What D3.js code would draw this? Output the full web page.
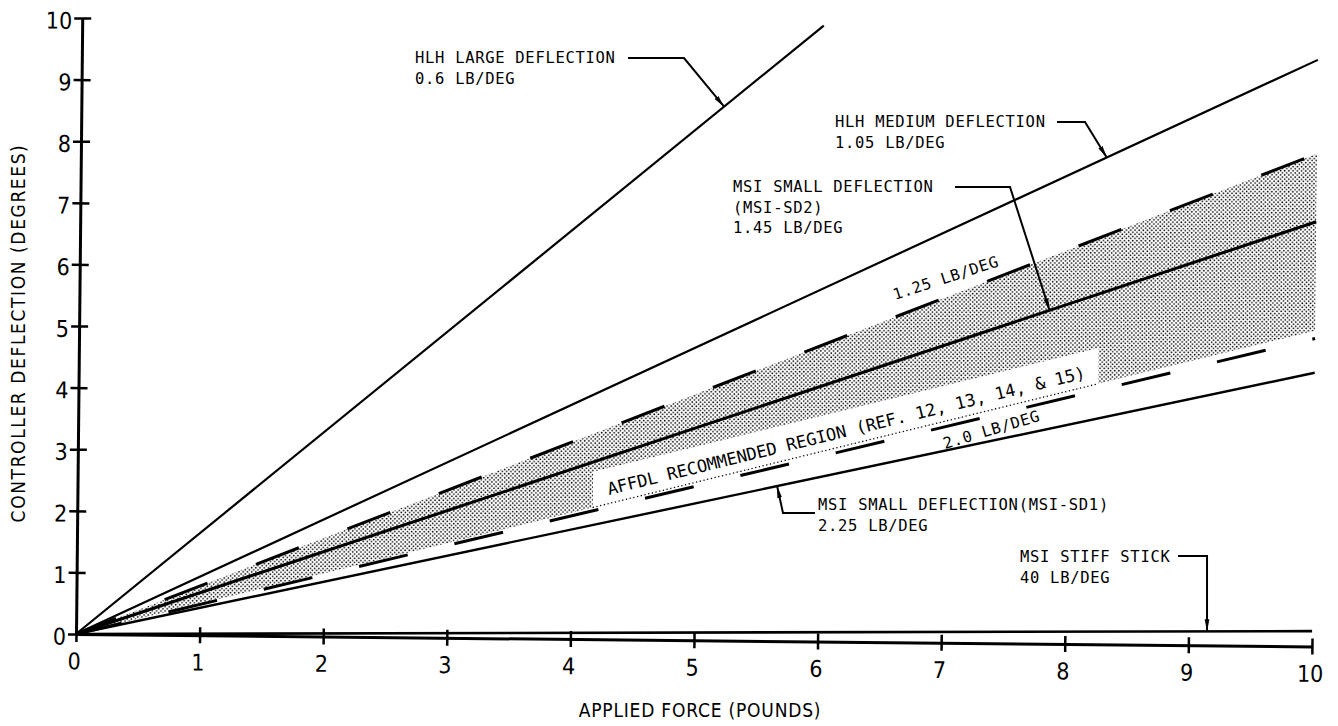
<!DOCTYPE html>
<html>
<head>
<meta charset="utf-8">
<script src="https://cdn.jsdelivr.net/npm/d3@7"></script>
<style>
  body { margin: 0; background: #fff; }
  .tick text { font-family: 'DejaVu Sans Condensed', 'DejaVu Sans', sans-serif; font-stretch: condensed; }
  .note { font-family: 'DejaVu Sans Mono', monospace; font-size: 15.5px; letter-spacing: 0.7px; fill: #000; }
  .title { font-family: 'DejaVu Sans Condensed', 'DejaVu Sans', sans-serif; font-stretch: condensed; font-size: 19px; fill: #000; }
</style>
</head>
<body>
<div id="chart"></div>
<script>
// applied force ticks (pounds) and deflection ticks (degrees)
const forceTicks = [0, 1, 2, 3, 4, 5, 6, 7, 8, 9, 10];
const deflTicks = [0, 1, 2, 3, 4, 5, 6, 7, 8, 9, 10];

// solid controller lines: force gradient in lb/deg and force where the line stops
const solidGradients = [0.6, 1.05, 1.45, 2.25, 40];
const solidEnds = [6, 10, 10, 10, 10];
const solidWidths = [2.2, 2.2, 3, 2.4, 2.6];

// dashed AFFDL limits
const dashedGradients = [1.25, 2.0];

// stippled region edges (lb/deg)
const regionEdges = [1.25, 1.95];

// annotations: gradient of the line pointed at, force at arrow tip
const notes = [
  { lines: ["HLH LARGE DEFLECTION", "0.6 LB/DEG"], k: 0.6, f: 5.2 },
  { lines: ["HLH MEDIUM DEFLECTION", "1.05 LB/DEG"], k: 1.05, f: 8.3 },
  { lines: ["MSI SMALL DEFLECTION", "(MSI-SD2)", "1.45 LB/DEG"], k: 1.45, f: 7.85 },
  { lines: ["MSI SMALL DEFLECTION(MSI-SD1)", "2.25 LB/DEG"], k: 2.25, f: 5.66 },
  { lines: ["MSI STIFF STICK", "40 LB/DEG"], k: 40, f: 9.15 }
];
// text anchor + leader elbow, in page pixels
const noteLayout = [
  { tx: 415, ty: 63, from: [628, 58], elbow: [684, 58] },
  { tx: 835, ty: 127, from: [1057, 122], elbow: [1085, 122] },
  { tx: 733, ty: 192, from: [955, 187], elbow: [1010, 187] },
  { tx: 818, ty: 510, from: [815, 513], elbow: [783, 513] },
  { tx: 1020, ty: 562, from: [1178, 556], elbow: null }
];

const width = 1338, height = 726;
const ox = 76, oy = 634;
const tilt = 0.58; // the scanned page sits slightly rotated

const x = d3.scaleLinear().domain([0, 10]).range([ox, ox + 1236]);
const y = d3.scaleLinear().domain([0, 10]).range([oy, oy - 616]);

function toScreen(f, d) {
  const a = tilt * Math.PI / 180;
  const px = x(f) - ox, py = y(d) - oy;
  return [ox + px * Math.cos(a) - py * Math.sin(a), oy + px * Math.sin(a) + py * Math.cos(a)];
}

const svg = d3.select("#chart").append("svg")
  .attr("width", width).attr("height", height);

const defs = svg.append("defs");
const pat = defs.append("pattern")
  .attr("id", "stipple").attr("patternUnits", "userSpaceOnUse")
  .attr("width", 4.2).attr("height", 4.2);
pat.append("circle").attr("cx", 1.05).attr("cy", 1.05).attr("r", 0.85).attr("fill", "#000");
pat.append("circle").attr("cx", 3.15).attr("cy", 3.15).attr("r", 0.85).attr("fill", "#000");

defs.append("marker")
  .attr("id", "arrow").attr("markerUnits", "userSpaceOnUse")
  .attr("viewBox", "0 0 12 6").attr("refX", 12).attr("refY", 3)
  .attr("markerWidth", 12).attr("markerHeight", 6).attr("orient", "auto")
  .append("path").attr("d", "M0,0.6 L12,3 L0,5.4 Z").attr("fill", "#000");

const plot = svg.append("g").attr("transform", `rotate(${tilt},${ox},${oy})`);

// stippled recommended region
const region = d3.area()
  .x(f => x(f))
  .y0(f => y(f / regionEdges[1]))
  .y1(f => y(f / regionEdges[0]));
plot.append("path").attr("d", region([0, 10])).attr("fill", "url(#stipple)");

// white label band inside the region
const band = [4.17, 8.25];
const bandH = 0.58;
plot.append("path")
  .attr("d", d3.area().x(f => x(f)).y0(f => y(f / regionEdges[1])).y1(f => y(f / regionEdges[1] + bandH))(band))
  .attr("fill", "#fff");
plot.append("path")
  .attr("d", d3.line().x(f => x(f)).y(f => y(f / regionEdges[1]))(band))
  .attr("fill", "none").attr("stroke", "#000").attr("stroke-width", 1.3)
  .attr("stroke-dasharray", "1.2,2.6");

const ang = Math.atan2(y(0) - y(1 / regionEdges[1]), x(1) - x(0)) * 180 / Math.PI;
plot.append("text")
  .attr("transform", `translate(${x(4.3)},${y(4.3 / regionEdges[1] + 0.14)}) rotate(${-ang})`)
  .attr("font-family", "'DejaVu Sans Mono', monospace")
  .attr("font-size", 17).attr("letter-spacing", 0)
  .text("AFFDL RECOMMENDED REGION (REF. 12, 13, 14, & 15)");

const line = d3.line().x(d => x(d[0])).y(d => y(d[1]));

// dashed limits
plot.selectAll(".dash").data(dashedGradients).join("path")
  .attr("class", "dash")
  .attr("d", k => line([[0, 0], [10, 10 / k]]))
  .attr("fill", "none").attr("stroke", "#000").attr("stroke-width", 3)
  .attr("stroke-dasharray", (k, i) => i === 0 ? "46,52" : "50,48")
  .attr("stroke-dashoffset", 3);

// solid lines
plot.selectAll(".solid").data(solidGradients).join("path")
  .attr("class", "solid")
  .attr("d", (k, i) => line([[0, 0], [solidEnds[i], solidEnds[i] / k]]))
  .attr("fill", "none").attr("stroke", "#000")
  .attr("stroke-width", (k, i) => solidWidths[i]);

// axes
const xAxis = plot.append("g").attr("transform", `translate(0,${oy})`)
  .call(d3.axisBottom(x).tickValues(forceTicks).tickSizeOuter(0).tickFormat(d3.format("d")));
const yAxis = plot.append("g").attr("transform", `translate(${ox},0)`)
  .call(d3.axisLeft(y).tickValues(deflTicks).tickSizeOuter(0).tickFormat(d3.format("d")));

[xAxis, yAxis].forEach(g => {
  g.select(".domain").attr("stroke", "#000").attr("stroke-width", 3);
  g.selectAll(".tick text").attr("font-size", 23).attr("fill", "#000");
});
xAxis.selectAll(".tick line").attr("y1", -8).attr("y2", 8).attr("stroke", "#000").attr("stroke-width", 2.5);
xAxis.selectAll(".tick text").attr("y", 19).attr("dy", "0.71em").attr("dx", -2);
yAxis.selectAll(".tick line").attr("x1", -8).attr("x2", 9).attr("stroke", "#000").attr("stroke-width", 2.5);
yAxis.selectAll(".tick text").attr("x", -10).attr("dy", "0.45em");

// annotations with leaders
const notesG = svg.append("g");
notes.forEach((n, i) => {
  const L = noteLayout[i];
  const t = notesG.append("text").attr("class", "note");
  n.lines.forEach((s, j) => {
    t.append("tspan").attr("x", L.tx).attr("y", L.ty + j * 20.5).text(s);
  });
  const tip = toScreen(n.f, n.f / n.k);
  const pts = [L.from, L.elbow ? L.elbow : [tip[0], L.from[1]], tip];
  notesG.append("path")
    .attr("d", d3.line()(pts))
    .attr("fill", "none").attr("stroke", "#000").attr("stroke-width", 2)
    .attr("marker-end", "url(#arrow)");
});

// rotated gradient labels on the dashed limits
notesG.append("text").attr("class", "note")
  .attr("transform", "translate(895,300) rotate(-18)")
  .text("1.25 LB/DEG");
notesG.append("text").attr("class", "note")
  .attr("transform", "translate(945,449) rotate(-16.5)")
  .text("2.0 LB/DEG");

// axis titles
svg.append("text").attr("class", "title")
  .attr("text-anchor", "middle").attr("letter-spacing", 1.6)
  .attr("transform", "translate(25,333) rotate(-90)")
  .text("CONTROLLER DEFLECTION (DEGREES)");
svg.append("text").attr("class", "title")
  .attr("text-anchor", "middle").attr("letter-spacing", 0.8)
  .attr("x", 700).attr("y", 717)
  .text("APPLIED FORCE (POUNDS)");
</script>
</body>
</html>
